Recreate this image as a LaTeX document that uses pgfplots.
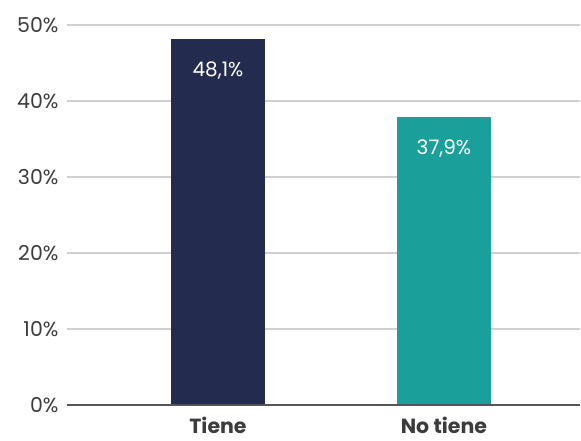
\documentclass[border=0pt]{standalone}
\usepackage{fontspec}
\setmainfont{Poppins}
\usepackage{pgfplots}
\pgfplotsset{compat=1.18}
\definecolor{navy}{HTML}{232B4E}
\definecolor{teal2}{HTML}{1A9F9A}
\definecolor{gridg}{HTML}{D0D0D0}
\definecolor{axisg}{HTML}{555555}
\definecolor{textg}{HTML}{3C3C3C}
\begin{document}
\begin{tikzpicture}[x=1pt,y=1pt]
\path[use as bounding box] (-67,-35) rectangle (514,405);
\begin{axis}[
    at={(0,0)}, anchor=south west,
    scale only axis, width=513pt, height=380pt,
    xmin=-0.668, xmax=1.602, ymin=0, ymax=50,
    xtick={0,1}, xticklabels={Tiene, No tiene},
    ytick={0,10,...,50},
    yticklabel={\pgfmathprintnumber{\tick}\%},
    /pgf/number format/assume math mode=true,
    axis line style={draw=none},
    ymajorgrids, grid style={gridg, line width=2.4pt},
    major tick length=0pt,
    xticklabel style={font=\fontsize{20.5}{24}\selectfont\bfseries, text=textg, yshift=-9pt},
    yticklabel style={font=\fontsize{20.5}{24}\selectfont, text=textg, xshift=-5pt},
    bar width=94pt,
    ybar, bar shift=0pt,
    clip=false,
    nodes near coords={\pgfmathprintnumber[fixed, fixed zerofill, precision=1, use comma]{\pgfplotspointmeta}\%},
    nodes near coords style={anchor=north, yshift=-19pt, text=white, font=\fontsize{20}{24}\selectfont},
]
\addplot[fill=navy, draw=none] coordinates {(0,48.1)};
\addplot[fill=teal2, draw=none] coordinates {(1,37.9)};
\draw[axisg, line width=2pt] (rel axis cs:0,0) -- (rel axis cs:1,0);
\end{axis}
\end{tikzpicture}
\end{document}
